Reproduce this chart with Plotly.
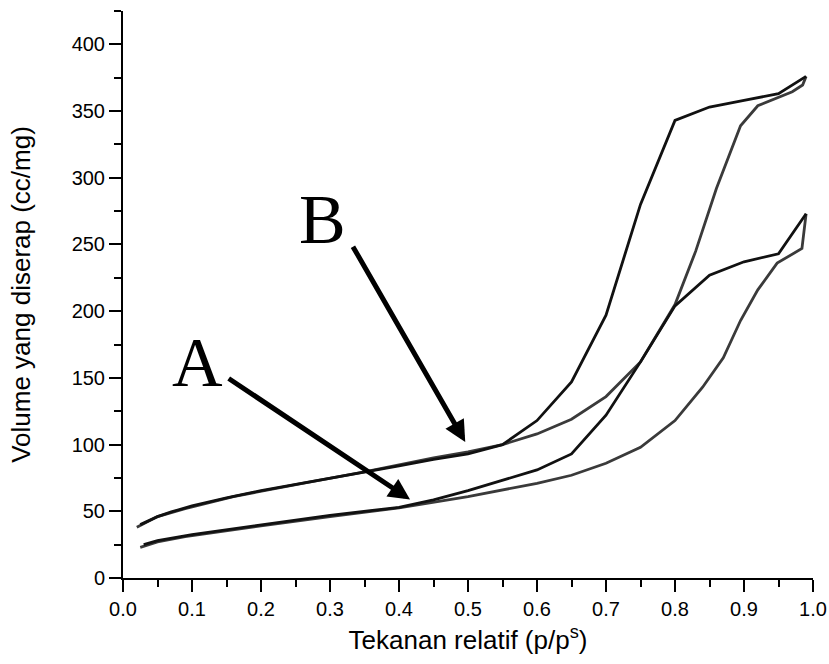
import plotly.graph_objects as go

# Isotherm B (upper)
b_ads_x = [0.02, 0.05, 0.09, 0.16, 0.26, 0.35, 0.45, 0.5, 0.55, 0.6, 0.65, 0.7, 0.75, 0.8, 0.83, 0.86, 0.895, 0.92, 0.97, 0.985, 0.99]
b_ads_y = [38, 46, 52, 61, 71, 79.5, 90, 94.5, 100, 108, 119, 136, 162, 205, 245, 292, 339, 354, 364.5, 369.5, 376]
b_des_x = [0.99, 0.95, 0.9, 0.85, 0.8, 0.75, 0.7, 0.65, 0.6, 0.55, 0.5, 0.45, 0.4, 0.35, 0.3, 0.25, 0.2, 0.15, 0.1, 0.07, 0.05, 0.025]
b_des_y = [376, 363, 358, 353, 343, 280, 197, 147, 118, 100, 93, 89, 84, 79.5, 75, 70.5, 65.5, 60, 54, 49.5, 46, 40]

# Isotherm A (lower)
a_ads_x = [0.025, 0.05, 0.09, 0.15, 0.2, 0.3, 0.4, 0.5, 0.6, 0.65, 0.7, 0.75, 0.8, 0.84, 0.87, 0.895, 0.92, 0.948, 0.984, 0.99]
a_ads_y = [23, 27, 31, 35.5, 39, 46, 52.5, 61, 71, 77, 86, 98, 118, 143, 165, 193, 216, 236, 247, 273]
a_des_x = [0.99, 0.95, 0.9, 0.85, 0.8, 0.75, 0.7, 0.65, 0.6, 0.55, 0.5, 0.45, 0.4, 0.3, 0.2, 0.1, 0.05, 0.03]
a_des_y = [273, 243, 237, 227, 204, 162, 122, 93, 81, 73, 65.5, 58.5, 53, 47, 40, 32.5, 28, 25]

x_ticks = [0.0, 0.1, 0.2, 0.3, 0.4, 0.5, 0.6, 0.7, 0.8, 0.9, 1.0]
y_ticks = [0, 50, 100, 150, 200, 250, 300, 350, 400]

ADS = "#3a3a3a"
DES = "#111111"

fig = go.Figure()
for xs, ys, c in [(b_ads_x, b_ads_y, ADS), (b_des_x, b_des_y, DES),
                  (a_ads_x, a_ads_y, ADS), (a_des_x, a_des_y, DES)]:
    fig.add_trace(go.Scatter(x=xs, y=ys, mode="lines",
                             line=dict(color=c, width=2.8), showlegend=False,
                             hoverinfo="skip"))

sans = "Arial, Liberation Sans, sans-serif"
serif = "Times New Roman, Liberation Serif, serif"

fig.update_layout(
    width=829, height=664,
    margin=dict(l=123, r=16, t=11, b=86),
    paper_bgcolor="white", plot_bgcolor="white",
    font=dict(family=sans, color="black", size=20),
    xaxis=dict(
        range=[0, 1], tickvals=x_ticks, ticktext=[f"{v:.1f}" for v in x_ticks],
        showline=True, linecolor="black", linewidth=2, mirror=False,
        ticks="outside", ticklen=12, tickwidth=2, tickcolor="black",
        showgrid=False, zeroline=False, automargin=False,
        tickfont=dict(size=20, family=sans),
        minor=dict(dtick=0.05, tick0=0, ticks="outside", ticklen=7, tickwidth=2, tickcolor="black", showgrid=False),
        title=dict(text="Tekanan relatif (p/p<sup>s</sup>)", font=dict(size=26, family=sans), standoff=12),
    ),
    yaxis=dict(
        range=[0, 425], tickvals=y_ticks,
        showline=True, linecolor="black", linewidth=2, mirror=False,
        ticks="outside", ticklen=12, tickwidth=2, tickcolor="black",
        showgrid=False, zeroline=False, automargin=False,
        tickfont=dict(size=20, family=sans),
        minor=dict(dtick=25, tick0=0, ticks="outside", ticklen=7, tickwidth=2, tickcolor="black", showgrid=False),
        title=dict(text="Volume yang diserap (cc/mg)", font=dict(size=26, family=sans), standoff=34),
    ),
)

# Arrows pointing to curves
arrows = [
    dict(x=0.416, y=58.8, ax=0.151, ay=150.3),
    dict(x=0.496, y=102, ax=0.332, ay=249.5),
]
for a in arrows:
    fig.add_annotation(x=a["x"], y=a["y"], ax=a["ax"], ay=a["ay"], xref="x", yref="y",
                       axref="x", ayref="y", text="", showarrow=True,
                       arrowhead=2, arrowsize=0.85, arrowwidth=5, arrowcolor="black", standoff=0)

labels = [dict(t="A", x=0.1084, y=161.4), dict(t="B", x=0.2896, y=269)]
for lb in labels:
    fig.add_annotation(x=lb["x"], y=lb["y"], xref="x", yref="y", text=lb["t"], showarrow=False,
                       font=dict(family=serif, size=70, color="black"))

fig.write_html("out.html", config={"displayModeBar": False},
               post_script="document.body.style.margin='0px';document.body.style.overflow='hidden';")
